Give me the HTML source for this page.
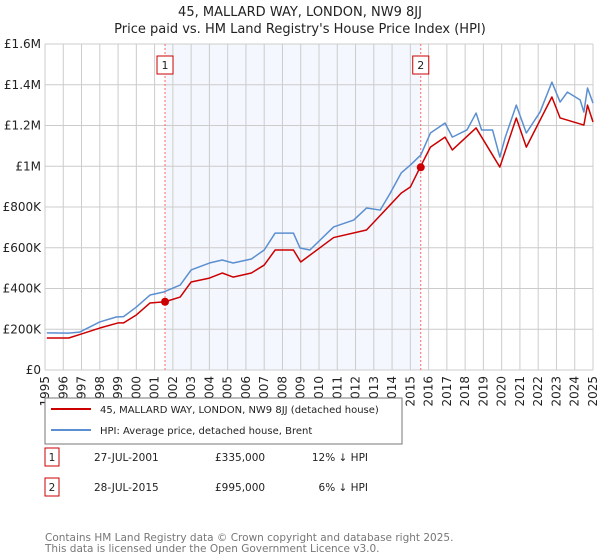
<!DOCTYPE html>
<html><head><meta charset="utf-8"><style>
body{margin:0;background:#fff;font-family:"DejaVu Sans","Liberation Sans",sans-serif;}
svg{display:block}
text{font-family:"DejaVu Sans","Liberation Sans",sans-serif;}
</style></head><body>
<svg id="chart" width="600" height="560" viewBox="0 0 600 560">
<text x="300" y="16" text-anchor="middle" font-size="13" fill="#222">45, MALLARD WAY, LONDON, NW9 8JJ</text>
<text x="300" y="33" text-anchor="middle" font-size="13" fill="#222">Price paid vs. HM Land Registry's House Price Index (HPI)</text>
<g id="plot"></g>
<g>
<rect x="45" y="398" width="357" height="46" fill="#fff" stroke="#777" stroke-width="1"/>
<line x1="51" y1="409" x2="91" y2="409" stroke="#cc0000" stroke-width="2"/>
<text x="100" y="413" font-size="10" fill="#222">45, MALLARD WAY, LONDON, NW9 8JJ (detached house)</text>
<line x1="51" y1="430" x2="91" y2="430" stroke="#5b8fd0" stroke-width="2"/>
<text x="100" y="434" font-size="10" fill="#222">HPI: Average price, detached house, Brent</text>
</g>
<g font-size="10.5" fill="#222">
<rect x="45" y="448" width="14" height="18" fill="#fff" stroke="#cc0000"/>
<text x="52" y="461" text-anchor="middle">1</text>
<text x="94" y="461">27-JUL-2001</text>
<text x="215" y="461">£335,000</text>
<text x="368" y="461" text-anchor="end">12% ↓ HPI</text>
</g>
<g font-size="10.5" fill="#222">
<rect x="45" y="478" width="14" height="18" fill="#fff" stroke="#cc0000"/>
<text x="52" y="491" text-anchor="middle">2</text>
<text x="94" y="491">28-JUL-2015</text>
<text x="215" y="491">£995,000</text>
<text x="368" y="491" text-anchor="end">6% ↓ HPI</text>
</g>
<text x="45" y="541" font-size="10.5" fill="#777">Contains HM Land Registry data © Crown copyright and database right 2025.</text>
<text x="45" y="552" font-size="10.5" fill="#777">This data is licensed under the Open Government Licence v3.0.</text>
</svg>
<script>
const hpiYears=[1995.1,1996.3,1996.9,1998,1998.9,1999.3,2000,2000.75,2001.5,2002.4,2003,2004,2004.7,2005.3,2006.3,2007,2007.6,2008.6,2008.96,2009.5,2010.8,2011.9,2012.6,2013.35,2013.9,2014.5,2015,2015.57,2016.1,2016.9,2017.3,2018.1,2018.6,2018.9,2019.5,2019.9,2020.2,2020.8,2021.35,2022.1,2022.75,2023.2,2023.6,2024.3,2024.5,2024.7,2025];
const hpiValues=[182,181,186,236,260,262,309,368,383,417,491,525,540,525,545,589,672,672,599,589,702,736,795,785,868,967,1006,1055,1163,1212,1143,1178,1261,1178,1178,1045,1143,1300,1163,1266,1413,1315,1364,1325,1266,1384,1310];
const paidYears=[1995.1,1996.3,1997,1998,1999,1999.3,2000,2000.75,2001.57,2002.4,2003,2004,2004.7,2005.3,2006.3,2007,2007.6,2008.6,2009,2010.8,2012.6,2014.5,2015,2015.57,2016.1,2016.9,2017.3,2018.6,2019.9,2020.8,2021.35,2022.75,2023.2,2024.5,2024.7,2025];
const paidValues=[157,157,177,206,231,231,270,329,335,358,432,451,476,456,476,515,589,589,530,650,687,868,898,1001,1094,1143,1080,1188,996,1237,1094,1340,1237,1202,1300,1217];
const sales=[{n:"1",year:2001.57,value:335},{n:"2",year:2015.57,value:995}];
const yTicks=[0,200,400,600,800,1000,1200,1400,1600];
const yTickLabels=["£0","£200K","£400K","£600K","£800K","£1M","£1.2M","£1.4M","£1.6M"];
const xTicks=[1995,1996,1997,1998,1999,2000,2001,2002,2003,2004,2005,2006,2007,2008,2009,2010,2011,2012,2013,2014,2015,2016,2017,2018,2019,2020,2021,2022,2023,2024,2025];

const L=45,R=593,T=44,B=370;
const x=v=>L+(v-1995)/30*(R-L);
const y=v=>B-v/1600*(B-T);
const NS="http://www.w3.org/2000/svg";
const g=document.getElementById('plot');
function mk(tag,attrs,parent){const e=document.createElementNS(NS,tag);for(const k in attrs)e.setAttribute(k,attrs[k]);(parent||g).appendChild(e);return e;}
let e=mk('rect',{x:x(sales[0].year),y:T,width:x(sales[1].year)-x(sales[0].year),height:B-T,fill:'#f4f7fe'});


xTicks.forEach(t=>{
  let l=mk('line',{x1:x(t),x2:x(t),y1:T,y2:B,stroke:'#cccccc','stroke-width':1});
  
  
  let tx=mk('text',{x:0,y:0,'font-size':12,fill:'#222','text-anchor':'end',transform:`translate(${x(t)+4},${B+6}) rotate(-90)`});
  tx.textContent=t;
  
  
});
yTicks.forEach((t,i)=>{
  let l=mk('line',{x1:L,x2:R,y1:y(t),y2:y(t),stroke:'#cccccc','stroke-width':1});
  
  
  let tx=mk('text',{x:L-4,y:y(t)+4,'font-size':12,fill:'#222','text-anchor':'end'});
  tx.textContent=yTickLabels[i];
  
  
});
sales.forEach(s=>{
  let l=mk('line',{x1:x(s.year),x2:x(s.year),y1:T,y2:B,stroke:'#ff6666','stroke-width':1,'stroke-dasharray':'2,2'});
  
  
  let r=mk('rect',{x:x(s.year)-8,y:56,width:16,height:18,fill:'#fff',stroke:'#cc0000'});
  
  
  let t=mk('text',{x:x(s.year),y:69,'font-size':11,'text-anchor':'middle',fill:'#222'});
  t.textContent=s.n;
  
  
});
let hp=mk('polyline',{points:hpiYears.map((v,i)=>x(v)+','+y(hpiValues[i])).join(' '),fill:'none',stroke:'#5b8fd0','stroke-width':1.5,'stroke-linejoin':'round'});


let pp=mk('polyline',{points:paidYears.map((v,i)=>x(v)+','+y(paidValues[i])).join(' '),fill:'none',stroke:'#cc0000','stroke-width':1.5,'stroke-linejoin':'round'});


sales.forEach(s=>{
  let c=mk('circle',{cx:x(s.year),cy:y(s.value),r:4,fill:'#cc0000'});
  
  
});
</script>
</body></html>
